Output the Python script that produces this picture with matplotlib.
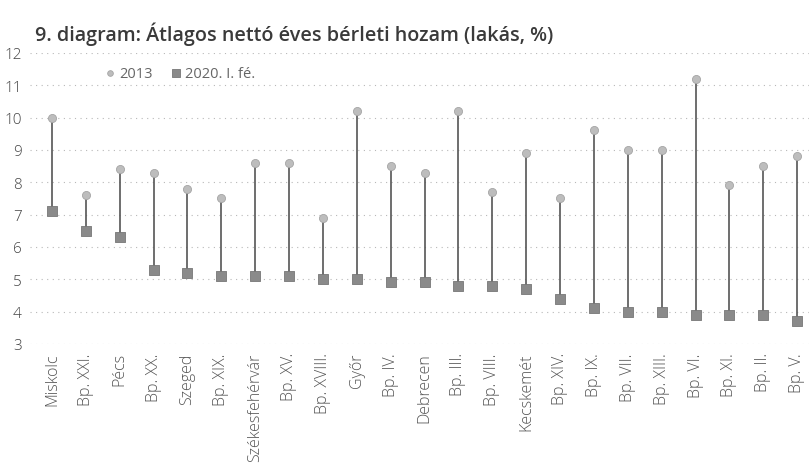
import matplotlib
matplotlib.use("Agg")
import matplotlib.pyplot as plt
import numpy as np

plt.rcParams['font.family'] = ['Open Sans', 'DejaVu Sans']

# data (skew of the scan corrected by eye)
places = ["Miskolc", "Bp. XXI.", "Pécs", "Bp. XX.", "Szeged", "Bp. XIX.",
          "Székesfehérvár", "Bp. XV.", "Bp. XVIII.", "Győr", "Bp. IV.",
          "Debrecen", "Bp. III.", "Bp. VIII.", "Kecskemét", "Bp. XIV.",
          "Bp. IX.", "Bp. VII.", "Bp. XIII.", "Bp. VI.", "Bp. XI.",
          "Bp. II.", "Bp. V."]
yield_2013 = [10.0, 7.6, 8.4, 8.3, 7.8, 7.5, 8.6, 8.6, 6.9, 10.2, 8.5,
              8.3, 10.2, 7.7, 8.9, 7.5, 9.6, 9.0, 9.0, 11.2, 7.9, 8.5, 8.8]
yield_2020 = [7.1, 6.5, 6.3, 5.3, 5.2, 5.1, 5.1, 5.1, 5.0, 5.0, 4.9,
              4.9, 4.8, 4.8, 4.7, 4.4, 4.1, 4.0, 4.0, 3.9, 3.9, 3.9, 3.7]
y_ticks = [3, 4, 5, 6, 7, 8, 9, 10, 11, 12]

fig = plt.figure(figsize=(8.09, 4.77), dpi=100)
ax = fig.add_axes([0.037, 0.277, 0.963, 0.610])

x = np.arange(len(places))

# dotted horizontal grid
for t in y_ticks:
    ax.axhline(t, color="#b8b8b8", lw=0.8, ls=(0, (1, 4)), zorder=0)

ax.vlines(x, yield_2020, yield_2013, color="#555555", lw=1.2, zorder=1)
ax.scatter(x, yield_2013, s=34, marker="o", color="#bdbdbd",
           edgecolor="#a5a5a5", lw=0.6, zorder=3, label="2013", clip_on=False)
ax.scatter(x, yield_2020, s=55, marker="s", color="#8a8a8a",
           edgecolor="#777777", lw=0.6, zorder=3, label="2020. I. fé.", clip_on=False)

ax.set_xlim(-0.65, len(places) - 0.65)
ax.set_ylim(3, 12)
ax.set_yticks(y_ticks)
ax.set_yticklabels([str(t) for t in y_ticks], fontsize=11, color="#444444",
                   fontweight="light")
ax.set_xticks(x)
ax.set_xticklabels(places, rotation=90, fontsize=11.5, color="#555555",
                   fontweight="light", va="top", ha="center")
ax.tick_params(length=0, pad=6)
for sp in ax.spines.values():
    sp.set_visible(False)

leg = ax.legend(loc="upper left", bbox_to_anchor=(0.075, 1.0), ncol=2,
                frameon=False, fontsize=10.5, handletextpad=0.0,
                handlelength=1.2, columnspacing=1.0, markerscale=0.7)
for txt in leg.get_texts():
    txt.set_color("#666666")

fig.text(0.043, 0.928, "9. diagram: Átlagos nettó éves bérleti hozam (lakás, %)",
         fontsize=14.2, fontweight="semibold", color="#3a3a3a", ha="left", va="center")

fig.savefig("out.png", dpi=100)
